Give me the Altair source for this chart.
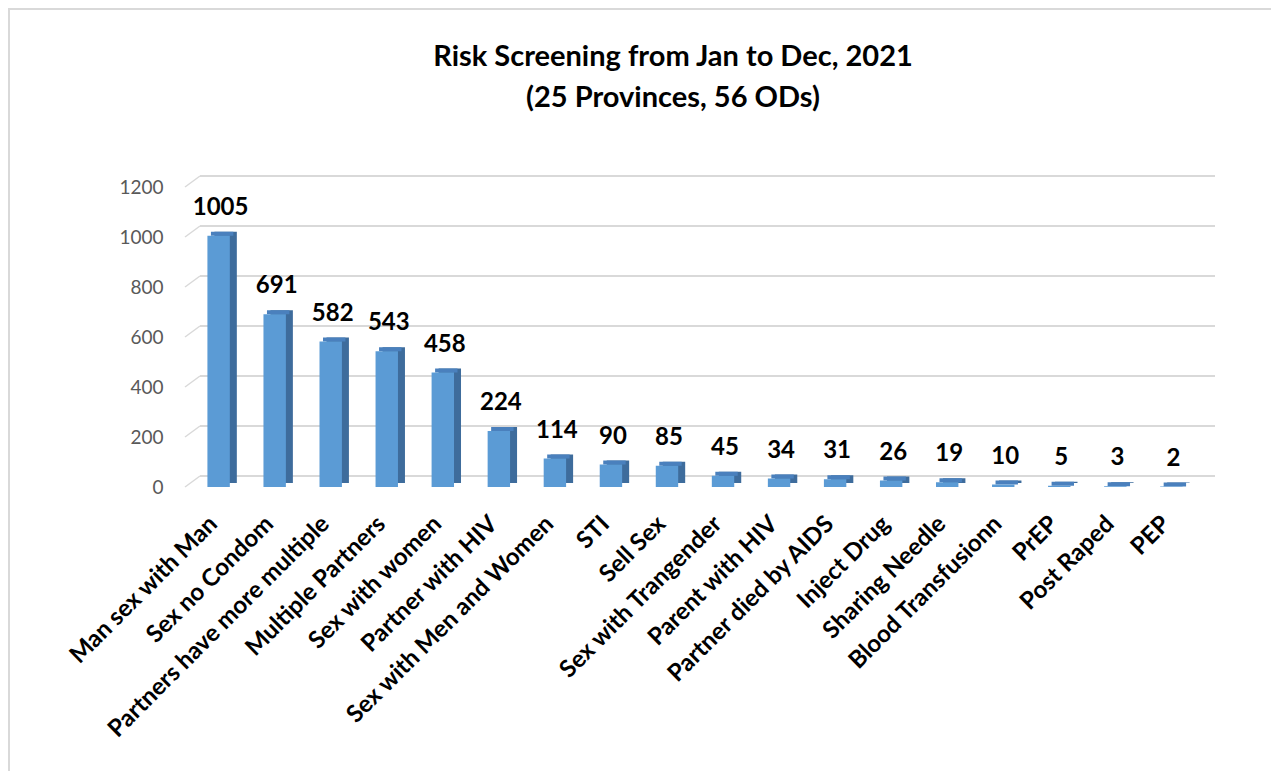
import altair as alt
import pandas as pd

categories = ["Man sex with Man", "Sex no Condom", "Partners have more multiple",
              "Multiple Partners", "Sex with women", "Partner with HIV",
              "Sex with Men and Women", "STI", "Sell Sex", "Sex with Trangender",
              "Parent with HIV", "Partner died by AIDS", "Inject Drug",
              "Sharing Needle", "Blood Transfusionn", "PrEP", "Post Raped", "PEP"]
values = [1005, 691, 582, 543, 458, 224, 114, 90, 85, 45, 34, 31, 26, 19, 10, 5, 3, 2]
y_ticks = [0, 200, 400, 600, 800, 1000, 1200]
title_lines = ["Risk Screening from Jan to Dec, 2021", "(25 Provinces, 56 ODs)"]

df = pd.DataFrame({"category": categories, "value": values})
grid_df = pd.DataFrame({"tick": y_ticks, "front": 0, "back": 1})
title_df = pd.DataFrame({"title": ["\n".join(title_lines)]})

W, H = 1020, 300
FONT = "Lato"

xenc = alt.X("category:N", sort=categories,
             scale=alt.Scale(paddingInner=0.6, paddingOuter=0.4),
             axis=alt.Axis(title=None, labelAngle=-45, labelAlign="right",
                           labelBaseline="middle", labelPadding=33, labelOffset=-5,
                           labelFont=FONT, labelFontWeight="bold",
                           labelFontSize=24, labelColor="#000000",
                           domain=False, ticks=False, labelOverlap=False,
                           labelLimit=400))
yscale = alt.Scale(domain=[0, 1200], nice=False)
yaxis = alt.Axis(title=None, values=y_ticks, grid=False, domain=False, format="d",
                 ticks=False, labelFont=FONT, labelFontSize=19,
                 labelColor="#595959", labelPadding=22)
yenc = alt.Y("value:Q", scale=yscale, axis=yaxis)

border = alt.Chart(title_df).mark_rect(fill=None, stroke="#D9D9D9", strokeWidth=2).encode(
    x=alt.value(-176), x2=alt.value(W + 200),
    y=alt.value(-178), y2=alt.value(H + 400))

title = alt.Chart(title_df).mark_text(font=FONT, fontSize=29, fontWeight="bold",
                                      color="#000000", align="center",
                                      baseline="alphabetic", lineBreak="\n",
                                      lineHeight=41).encode(
    x=alt.value(488), y=alt.value(-121), text="title:N")

grid = alt.Chart(grid_df).mark_rule(color="#D9D9D9", strokeWidth=2, yOffset=-11).encode(
    y=alt.Y("tick:Q", scale=yscale, axis=yaxis),
    x=alt.value(15), x2=alt.value(W + 10))

diag = alt.Chart(grid_df).mark_rule(color="#D9D9D9", strokeWidth=1.5, y2Offset=-11).encode(
    x=alt.X("front:Q", scale=alt.Scale(domain=[0, 1], range=[0, 15]), axis=None),
    x2=alt.X2("back"),
    y=alt.Y("tick:Q", scale=yscale, axis=yaxis),
    y2=alt.Y2("tick"))

side = alt.Chart(df).mark_bar(color="#3E6C9C", xOffset=7, yOffset=-4, y2Offset=-4).encode(
    x=xenc, y=yenc)

top = alt.Chart(df).mark_bar(color="#4A80BD", xOffset=3.5, yOffset=-4).encode(
    x=xenc, y=yenc, y2=alt.Y2("value"))

front = alt.Chart(df).mark_bar(color="#5B9BD5").encode(x=xenc, y=yenc)

labels = alt.Chart(df).mark_text(font=FONT, fontWeight="bold", fontSize=24,
                                 color="#000000", dy=-28, dx=2,
                                 baseline="middle").encode(
    x=xenc, y=yenc, text="value:Q")

bars = alt.layer(side, top, front, labels)

chart = alt.layer(border, title, grid, diag, bars).resolve_scale(
    x="independent"
).properties(
    width=W, height=H,
    view=alt.ViewBackground(stroke="transparent", strokeWidth=0, strokeOpacity=0),
    autosize=alt.AutoSizeParams(type="none"),
    padding={"left": 177, "top": 179, "right": 66, "bottom": 284},
).configure_view(stroke="transparent", strokeWidth=0, strokeOpacity=0).configure(
    background="#FFFFFF")

chart.save("out.html", embed_options={"renderer": "svg", "actions": False})
